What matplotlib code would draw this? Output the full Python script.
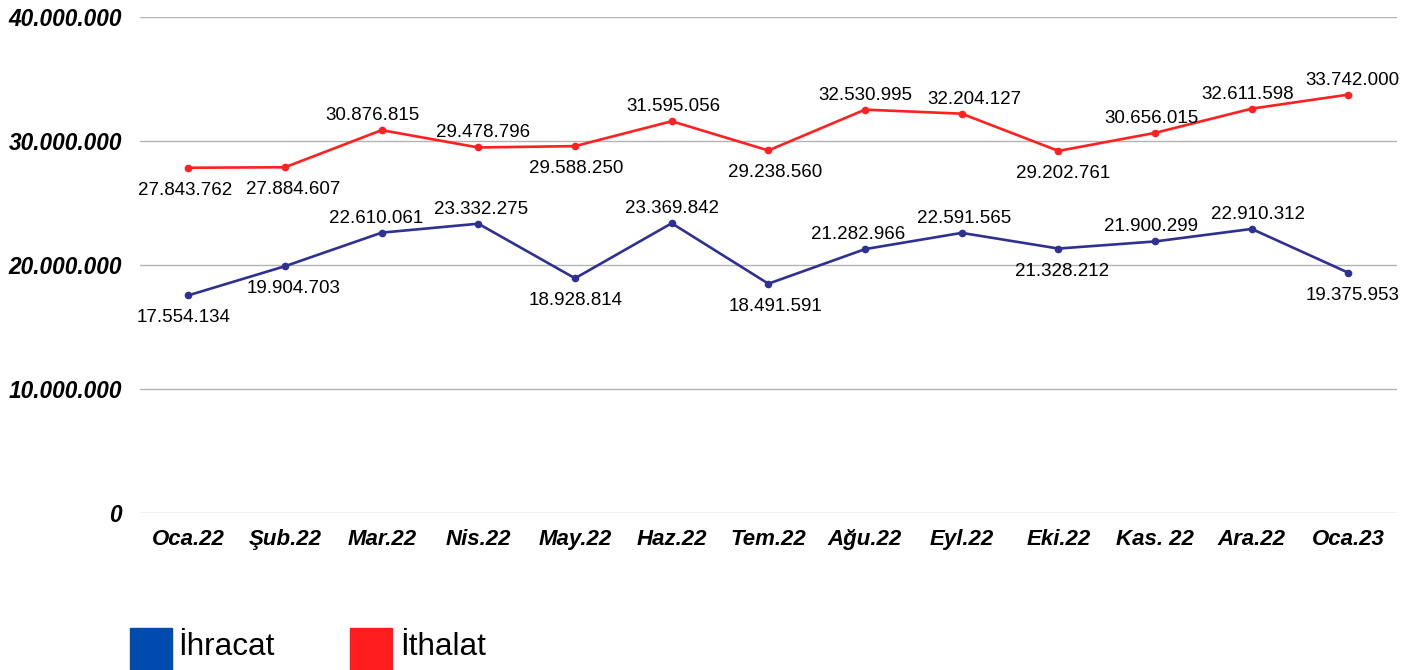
import matplotlib.pyplot as plt
from matplotlib.patches import Rectangle

plt.rcParams['font.family'] = ['Liberation Sans', 'DejaVu Sans']

months = ['Oca.22', 'Şub.22', 'Mar.22', 'Nis.22', 'May.22', 'Haz.22', 'Tem.22',
          'Ağu.22', 'Eyl.22', 'Eki.22', 'Kas. 22', 'Ara.22', 'Oca.23']
ihracat = [17554134, 19904703, 22610061, 23332275, 18928814, 23369842, 18491591,
           21282966, 22591565, 21328212, 21900299, 22910312, 19375953]
ithalat = [27843762, 27884607, 30876815, 29478796, 29588250, 31595056, 29238560,
           32530995, 32204127, 29202761, 30656015, 32611598, 33742000]
# label placement: 1 = above the point, 0 = below
ihracat_up = [0, 0, 1, 1, 0, 1, 0, 1, 1, 0, 1, 1, 0]
ithalat_up = [0, 0, 1, 1, 0, 1, 0, 1, 1, 0, 1, 1, 1]
# small horizontal nudges of the labels (pixels), as in the original
ihracat_dx = [-5, 9, -6, 3, 1, 0, 7, -7, 2, 4, -4, 6, 4]
ithalat_dx = [-3, 8, -9, 5, 1, 2, 7, 0, 13, 5, -4, -4, 4]
yticks = [0, 10000000, 20000000, 30000000, 40000000]


def fmt(v):
    return f'{v:,}'.replace(',', '.')


fig = plt.figure(figsize=(14.17, 6.70), dpi=100)
ax = fig.add_axes([0.0988, 0.2343, 0.9857 - 0.0988, 0.9746 - 0.2343])

x = range(len(months))
series = [(ihracat, ihracat_up, ihracat_dx, '#2E3192'),
          (ithalat, ithalat_up, ithalat_dx, '#FF2020')]
for vals, up, dx, col in series:
    ax.plot(x, vals, color=col, lw=1.9, marker='o', ms=4.5, zorder=3)
    for i, v in enumerate(vals):
        if up[i]:
            ax.annotate(fmt(v), (i, v), xytext=(dx[i], 6), textcoords='offset pixels',
                        ha='center', va='bottom', fontsize=13.5)
        else:
            ax.annotate(fmt(v), (i, v), xytext=(dx[i], -14), textcoords='offset pixels',
                        ha='center', va='top', fontsize=13.5)

ax.set_xlim(-0.5, len(months) - 0.5)
ax.set_ylim(0, 40000000)
ax.set_yticks(yticks)
ax.set_yticklabels([fmt(t) for t in yticks], fontsize=16.3, fontweight='bold',
                   fontstyle='italic')
ax.set_xticks(list(x))
ax.set_xticklabels(months, fontsize=16, fontweight='bold', fontstyle='italic')
ax.tick_params(length=0)
ax.tick_params(axis='y', pad=13)
ax.tick_params(axis='x', pad=11.5)
ax.grid(axis='y', color='#B3B3B3', lw=1)
ax.set_axisbelow(True)
for s in ax.spines.values():
    s.set_visible(False)

# legend drawn in figure pixels
W, H = 1417, 670
fig.add_artist(Rectangle((130 / W, 0), 42 / W, 42 / H, transform=fig.transFigure,
                         color='#004BAD'))
fig.text(178 / W, 23 / H, 'İhracat', fontsize=22.7, va='center')
fig.add_artist(Rectangle((350 / W, 0), 42 / W, 42 / H, transform=fig.transFigure,
                         color='#FF1C1C'))
fig.text(400 / W, 23 / H, 'İthalat', fontsize=22.7, va='center')

fig.savefig('out.png', dpi=100)
